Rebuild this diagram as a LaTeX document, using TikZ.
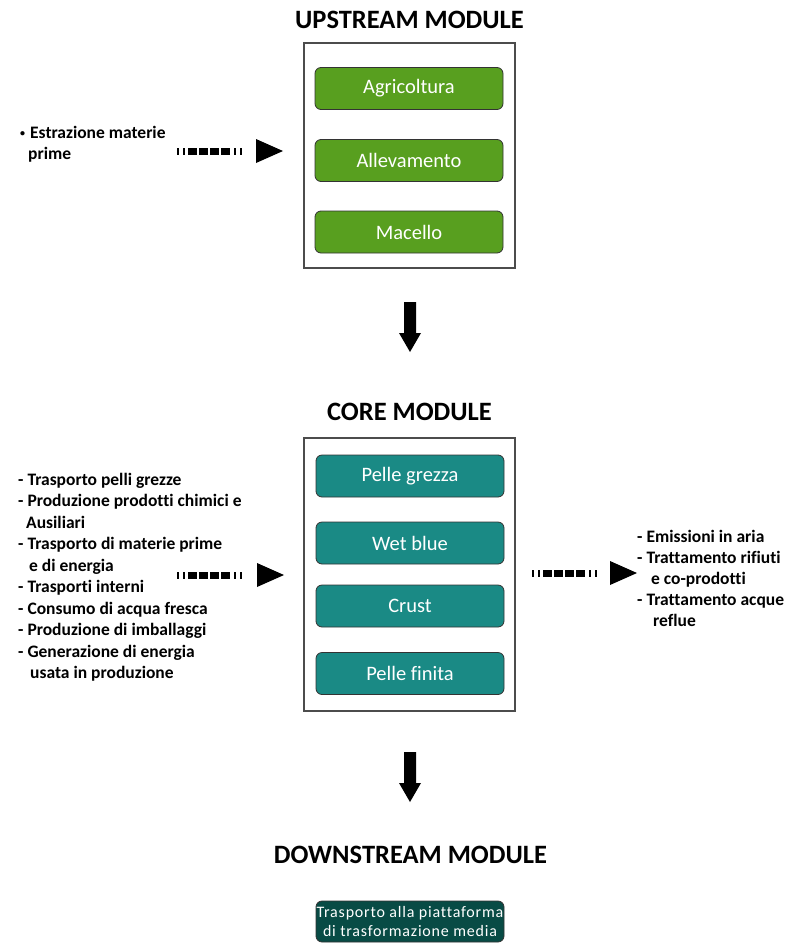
\documentclass[tikz,border=0pt]{standalone}
\usepackage{fontspec}
\setmainfont{Carlito}[Ligatures=NoCommon]
\definecolor{upgreen}{HTML}{589F1F}
\definecolor{coreteal}{HTML}{1A8A85}
\definecolor{downteal}{HTML}{084B45}
\begin{document}
\begin{tikzpicture}[x=1pt,y=-1pt,
  title/.style={font=\bfseries\fontsize{26.5}{30}\selectfont, inner sep=0},
  frame/.style={draw=black!70, line width=1.2pt, inner sep=0},
  stage/.style={draw=black!80, line width=0.8pt, rounded corners=6pt, minimum width=188pt, minimum height=42pt, text=white, font=\fontsize{20.5}{24}\selectfont, inner sep=0},
  side/.style={font=\bfseries\fontsize{17.5}{21.5}\selectfont, align=left, inner sep=0, anchor=west},
  dashflow/.style={line width=7pt, dash pattern=on 2pt off 4pt on 2pt off 3pt on 9pt off 2pt on 9pt off 2pt on 9pt off 2pt on 9pt off 4pt on 2pt off 4pt on 2pt off 100pt},
  blockarrow/.style={fill=black},
]
\useasboundingbox (0,0) rectangle (806,943);

% ---------- Upstream ----------
\node[title] (uptitle) at (409.5,20) {UPSTREAM MODULE};
\node[frame, minimum width=211pt, minimum height=225pt] (upframe) at (409.5,155.5) {};
\node[stage, fill=upgreen] (agri) at (409,88.5) {Agricoltura};
\node[stage, fill=upgreen] (alle) at (409,160.5) {Allevamento};
\node[stage, fill=upgreen] (mace) at (409,232) {Macello};

\node[side] (srcup) at (20,144) {\raisebox{2pt}{\fontsize{10}{10}\selectfont•}\hspace*{5pt}Estrazione materie\\\hspace*{8pt}prime};
\coordinate (d1s) at (177,151);
\coordinate (d1e) at (256,151);
\draw[dashflow] (d1s) -- (d1e);
\fill (d1e) ++(0,-12) -- ++(27,12) -- ++(-27,12) -- cycle;

\coordinate (a1) at (410,302);
\fill[blockarrow] (a1) ++(-6,0) -- ++(12,0) -- ++(0,31) -- ++(5,0) -- ++(-11,19) -- ++(-11,-19) -- ++(5,0) -- cycle;

% ---------- Core ----------
\node[title] (coretitle) at (409.5,412) {CORE MODULE};
\node[frame, minimum width=211pt, minimum height=273pt] (coreframe) at (409.5,574.5) {};
\node[stage, fill=coreteal] (grezza) at (410,476) {Pelle grezza};
\node[stage, fill=coreteal] (wet) at (410,543) {Wet blue};
\node[stage, fill=coreteal] (crust) at (410,606) {Crust};
\node[stage, fill=coreteal] (finita) at (410,673.5) {Pelle finita};

\node[side] (inputs) at (18,577) {- Trasporto pelli grezze\\- Produzione prodotti chimici e\\\hspace*{8pt}Ausiliari\\- Trasporto di materie prime\\\hspace*{11pt}e di energia\\- Trasporti interni\\- Consumo di acqua fresca\\- Produzione di imballaggi\\- Generazione di energia\\\hspace*{12pt}usata in produzione};
\coordinate (d2s) at (177,575);
\coordinate (d2e) at (257,575);
\draw[dashflow] (d2s) -- (d2e);
\fill (d2e) ++(0,-12) -- ++(27,12) -- ++(-27,12) -- cycle;

\coordinate (d3s) at (532,573);
\coordinate (d3e) at (610,573);
\draw[dashflow] (d3s) -- (d3e);
\fill (d3e) ++(0,-12) -- ++(27,12) -- ++(-27,12) -- cycle;
\node[side, font=\bfseries\fontsize{17.5}{21}\selectfont] (outputs) at (637,578) {- Emissioni in aria\\- Trattamento rifiuti\\\hspace*{14pt}e co-prodotti\\- Trattamento acque\\\hspace*{16pt}reflue};

\coordinate (a2) at (410,752);
\fill[blockarrow] (a2) ++(-6,0) -- ++(12,0) -- ++(0,31) -- ++(5,0) -- ++(-11,19) -- ++(-11,-19) -- ++(5,0) -- cycle;

% ---------- Downstream ----------
\node[title] (downtitle) at (410.5,855) {DOWNSTREAM MODULE};
\node[stage, fill=downteal, minimum height=41pt, font=\fontsize{16}{19}\selectfont\addfontfeature{LetterSpace=5}, align=center] (transport) at (410,921.5) {Trasporto alla piattaforma\\di trasformazione media};
\end{tikzpicture}
\end{document}
